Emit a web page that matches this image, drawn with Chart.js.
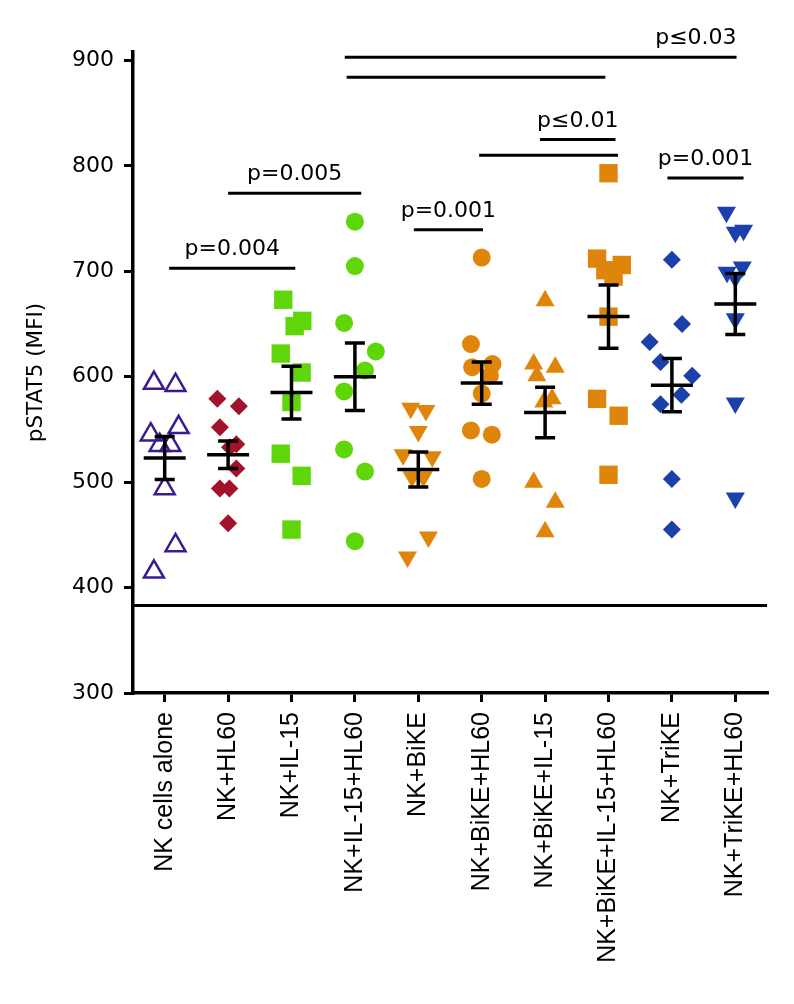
<!DOCTYPE html>
<html>
<head>
<meta charset="utf-8">
<script src="https://cdn.jsdelivr.net/npm/chart.js@4.4.1/dist/chart.umd.min.js"></script>
<style>
  html, body { margin: 0; padding: 0; background: #fff; }
  #wrap { width: 794px; height: 1004px; }
</style>
</head>
<body>
<div id="wrap"><canvas id="myChart" width="794" height="1004"></canvas></div>
<script>
// groups along the x axis
const categories = ['NK cells alone', 'NK+HL60', 'NK+IL-15', 'NK+IL-15+HL60', 'NK+BiKE',
  'NK+BiKE+HL60', 'NK+BiKE+IL-15', 'NK+BiKE+IL-15+HL60', 'NK+TriKE', 'NK+TriKE+HL60'];

const yTicks = [300, 400, 500, 600, 700, 800, 900];

// single donor values (pSTAT5 MFI)
const nkAlone        = [594, 592, 545, 552, 535, 535, 494, 440, 415];
const nkHl60         = [579, 572, 552, 536, 533, 513, 494, 494, 461];
const nkIl15         = [673, 653, 648, 622, 604, 576, 527, 506, 455];
const nkIl15Hl60     = [747, 705, 651, 624, 606, 586, 531, 510, 444];
const nkBike         = [570, 568, 548, 526, 524, 505, 505, 448, 429];
const nkBikeHl60     = [713, 631, 609, 612, 601, 584, 549, 545, 503];
const nkBikeIl15     = [672, 612, 609, 601, 579, 576, 500, 481, 453];
const nkBikeIl15Hl60 = [793, 712, 701, 706, 695, 657, 579, 563, 507];
const nkTrike        = [711, 650, 633, 614, 601, 583, 574, 503, 455];
const nkTrikeHl60    = [756, 737, 739, 704, 699, 694, 655, 575, 485];

// horizontal scatter of the points inside each column (in columns)
const jitter = [
  [-0.17, 0.17, -0.22, 0.22, -0.08, 0.09, 0, 0.17, -0.17],
  [-0.17, 0.17, -0.13, 0.13, 0.03, 0.13, -0.13, 0.02, 0],
  [-0.13, 0.17, 0.05, -0.17, 0.16, 0, -0.17, 0.16, 0],
  [0, 0, -0.17, 0.33, 0.16, -0.17, -0.17, 0.16, 0],
  [-0.12, 0.12, 0, -0.24, 0.22, -0.1, 0.08, 0.16, -0.17],
  [0, -0.17, -0.15, 0.17, 0.13, 0, -0.17, 0.16, 0],
  [0, -0.18, 0.16, -0.13, 0.11, -0.02, -0.18, 0.16, 0],
  [0, -0.18, -0.05, 0.21, 0.08, 0, -0.18, 0.16, 0],
  [0, 0.16, -0.35, -0.18, 0.32, 0.15, -0.18, 0, 0],
  [-0.14, 0.0, 0.13, 0.11, -0.13, 0, 0, 0, 0]
];

// mean and SEM as drawn in the figure
const means = [523, 526, 585, 600, 512, 594, 566, 657, 592, 669];
const sems  = [20.4, 13, 25, 32, 16.6, 20, 24, 30, 25.3, 29];

const baseline = 383;

// significance brackets: from group, to group, height, label
const sigFrom  = [0.07, 1.0, 3.93, 4.96, 5.92, 7.93, 2.87, 2.84];
const sigTo    = [2.06, 3.1, 5.02, 7.15, 7.11, 9.13, 6.95, 9.02];
const sigAt    = [703, 774, 739.5, 810, 825, 788.5, 884, 903];
const sigText  = ['p=0.004', 'p=0.005', 'p=0.001', '', 'p\u22640.01', 'p=0.001', '', 'p\u22640.03'];

const groupValues = [nkAlone, nkHl60, nkIl15, nkIl15Hl60, nkBike, nkBikeHl60, nkBikeIl15,
  nkBikeIl15Hl60, nkTrike, nkTrikeHl60];

const purple = '#3b1b8e', red = '#a2122a', green = '#5fd60a', orange = '#e0850c', blue = '#1b3fab';
const markers = [
  { style: 'triangle', r: 11.5, rot: 0, color: purple, open: true },
  { style: 'rectRot', r: 9, rot: 0, color: red },
  { style: 'rect', r: 13, rot: 0, color: green },
  { style: 'circle', r: 9, rot: 0, color: green },
  { style: 'triangle', r: 11, rot: 180, color: orange },
  { style: 'circle', r: 9, rot: 0, color: orange },
  { style: 'triangle', r: 11, rot: 0, color: orange },
  { style: 'rect', r: 13, rot: 0, color: orange },
  { style: 'rectRot', r: 9, rot: 0, color: blue },
  { style: 'triangle', r: 11, rot: 180, color: blue }
];

const datasets = groupValues.map((vals, g) => {
  const m = markers[g];
  return {
    label: categories[g],
    data: vals.map((v, i) => ({ x: g + jitter[g][i], y: v })),
    pointStyle: m.style,
    pointRadius: m.r,
    pointHoverRadius: m.r,
    rotation: m.rot,
    backgroundColor: m.open ? 'rgba(255,255,255,0)' : m.color,
    borderColor: m.color,
    borderWidth: m.open ? 2.5 : 0,
    clip: false
  };
});

// mean +/- SEM bars, reference line and p value brackets
const overlay = {
  id: 'overlay',
  beforeDatasetsDraw(chart) {
    const { ctx, chartArea, scales: { y } } = chart;
    ctx.save();
    ctx.strokeStyle = '#000';
    ctx.lineWidth = 3;
    const yb = y.getPixelForValue(baseline);
    ctx.beginPath();
    ctx.moveTo(chartArea.left, yb);
    ctx.lineTo(chartArea.right, yb);
    ctx.stroke();
    ctx.restore();
  },
  afterDatasetsDraw(chart) {
    const { ctx, scales: { x, y } } = chart;
    ctx.save();
    ctx.strokeStyle = '#000';
    ctx.lineWidth = 3.5;
    means.forEach((m, g) => {
      const cx = x.getPixelForValue(g);
      const ym = y.getPixelForValue(m);
      const yt = y.getPixelForValue(m + sems[g]);
      const ybt = y.getPixelForValue(m - sems[g]);
      ctx.beginPath();
      ctx.moveTo(cx - 21, ym); ctx.lineTo(cx + 21, ym);
      ctx.moveTo(cx, yt); ctx.lineTo(cx, ybt);
      ctx.moveTo(cx - 10, yt); ctx.lineTo(cx + 10, yt);
      ctx.moveTo(cx - 10, ybt); ctx.lineTo(cx + 10, ybt);
      ctx.stroke();
    });
    ctx.lineWidth = 3;
    ctx.fillStyle = '#000';
    ctx.font = '22px "DejaVu Sans"';
    ctx.textBaseline = 'middle';
    sigAt.forEach((v, i) => {
      const x1 = x.getPixelForValue(sigFrom[i]);
      const x2 = x.getPixelForValue(sigTo[i]);
      const py = y.getPixelForValue(v);
      ctx.beginPath();
      ctx.moveTo(x1, py); ctx.lineTo(x2, py);
      ctx.stroke();
      if (sigText[i]) {
        if (i === sigAt.length - 1) {
          ctx.textAlign = 'right';
          ctx.fillText(sigText[i], x2, py - 18.5);
        } else {
          ctx.textAlign = 'center';
          ctx.fillText(sigText[i], (x1 + x2) / 2, py - 18.5);
        }
      }
    });
    ctx.restore();
  }
};

const ctx = document.getElementById('myChart').getContext('2d');
new Chart(ctx, {
  type: 'scatter',
  data: { datasets: datasets },
  options: {
    responsive: false,
    animation: false,
    events: [],
    layout: { padding: { top: 52, right: 27, left: 0, bottom: 0 } },
    plugins: { legend: { display: false }, tooltip: { enabled: false } },
    scales: {
      x: {
        type: 'linear',
        min: -0.5,
        max: 9.5,
        afterBuildTicks: (scale) => { scale.ticks = categories.map((c, i) => ({ value: i })); },
        afterFit: (scale) => { scale.height = 311; },
        ticks: {
          autoSkip: false,
          minRotation: 90,
          maxRotation: 90,
          padding: 10,
          color: '#000',
          font: { family: '"Liberation Sans", Arial', size: 25 },
          callback: (value) => categories[value]
        },
        grid: { drawOnChartArea: false, drawTicks: true, tickLength: 9, lineWidth: 3, color: '#000' },
        border: { display: true, width: 3.5, color: '#000' }
      },
      y: {
        min: 300,
        max: 908,
        afterBuildTicks: (scale) => { scale.ticks = yTicks.map(v => ({ value: v })); },
        afterFit: (scale) => { scale.width = 133; },
        ticks: {
          padding: 10,
          color: '#000',
          font: { family: 'DejaVu Sans', size: 22 }
        },
        title: {
          display: true,
          text: 'pSTAT5 (MFI)',
          color: '#000',
          font: { family: 'DejaVu Sans', size: 21.5 },
          padding: { top: 24, bottom: 0 }
        },
        grid: { drawOnChartArea: false, drawTicks: true, tickLength: 9, lineWidth: 3, color: '#000' },
        border: { display: true, width: 3.5, color: '#000' }
      }
    }
  },
  plugins: [overlay]
});
</script>
</body>
</html>
